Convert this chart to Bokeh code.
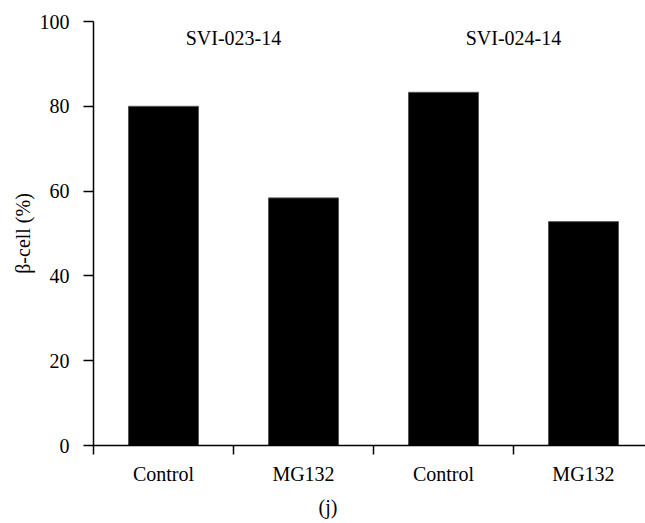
from bokeh.plotting import figure
from bokeh.models import FixedTicker, Range1d, ColumnDataSource, Title
from bokeh.embed import file_html
from bokeh.resources import INLINE
from bokeh.core.properties import value

# ---- data ----
categories = ["Control", "MG132", "Control", "MG132"]
beta_cell = [80.0, 58.4, 83.3, 52.8]
groups = ["SVI-023-14", "SVI-024-14"]
group_label_y = [96, 96]
y_ticks = [0, 20, 40, 60, 80, 100]
panel_label = "(j)"

FONT = "'Liberation Serif', 'Times New Roman', serif"
AFONT = "serif"
FS = "20px"

x_centers = [i + 0.5 for i in range(len(categories))]
boundaries = [float(i) for i in range(len(categories))]
group_x = [1.0 + 2 * i for i in range(len(groups))]

p = figure(width=645, height=523, output_backend="svg", toolbar_location=None,
           x_range=Range1d(0, 3.943), y_range=Range1d(0, 100),
           min_border_left=93, min_border_top=21, min_border_right=0,
           min_border_bottom=77)
p.outline_line_color = None
p.xgrid.visible = False
p.ygrid.visible = False
p.background_fill_color = "white"
p.border_fill_color = "white"

src = ColumnDataSource(dict(x=x_centers, top=beta_cell))
p.vbar(x="x", top="top", width=0.5, bottom=0, source=src,
       fill_color="black", line_color="#555555", line_width=1)

gsrc = ColumnDataSource(dict(x=group_x, y=group_label_y, t=groups))
p.text(x="x", y="y", text="t", source=gsrc, text_align="center",
       text_baseline="middle", text_font=value(FONT), text_font_size=FS,
       text_color="black")

# x axis
xa = p.xaxis[0]
xa.ticker = FixedTicker(ticks=x_centers, minor_ticks=boundaries)
xa.major_label_overrides = {x: c for x, c in zip(x_centers, categories)}
xa.major_tick_out = 0
xa.major_tick_in = 0
xa.minor_tick_out = 9
xa.minor_tick_in = 0
xa.minor_tick_line_width = 1.5
xa.axis_line_width = 1.5
xa.major_label_standoff = 8
xa.major_label_text_font = AFONT
xa.major_label_text_font_size = FS
xa.major_label_text_color = "black"

# y axis
ya = p.yaxis[0]
ya.ticker = FixedTicker(ticks=y_ticks, minor_ticks=[])
ya.major_tick_out = 10
ya.major_tick_in = 0
ya.major_tick_line_width = 1.5
ya.axis_line_width = 1.5
ya.major_label_standoff = 14
ya.major_label_text_font = AFONT
ya.major_label_text_font_size = FS
ya.major_label_text_color = "black"
ya.axis_label = "β-cell (%)"
ya.axis_label_text_font = AFONT
ya.axis_label_text_font_size = FS
ya.axis_label_text_font_style = "normal"
ya.axis_label_text_color = "black"
ya.axis_label_standoff = 3

p.add_layout(Title(text=panel_label, align="left", offset=225,
                   text_font=AFONT, text_font_size=FS,
                   text_font_style="normal", text_color="black",
                   standoff=12), "below")

open("out.html", "w").write(file_html(p, INLINE))
